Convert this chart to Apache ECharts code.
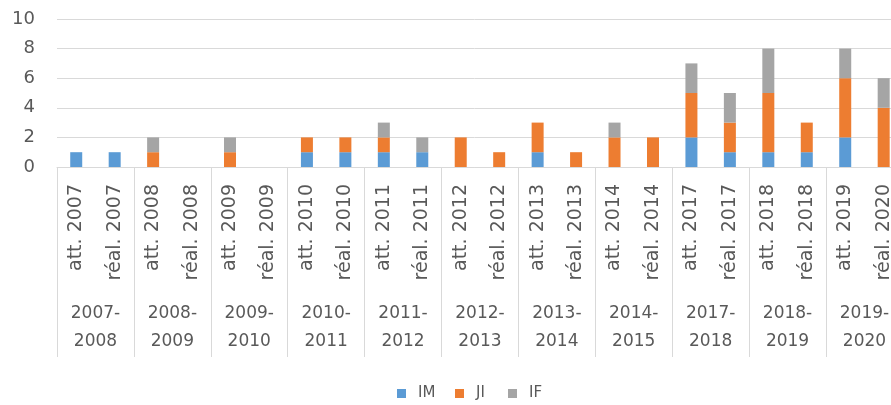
<!DOCTYPE html>
<html>
<head>
<meta charset="utf-8">
<script src="https://cdn.jsdelivr.net/npm/echarts@6/dist/echarts.min.js"></script>
<style>
html,body{margin:0;padding:0;background:#fff;overflow:hidden;}
#c{width:891px;height:405px;}
</style>
</head>
<body>
<div id="c"></div>
<script>
const categories = ['att. 2007','réal. 2007','att. 2008','réal. 2008','att. 2009','réal. 2009',
  'att. 2010','réal. 2010','att. 2011','réal. 2011','att. 2012','réal. 2012',
  'att. 2013','réal. 2013','att. 2014','réal. 2014','att. 2017','réal. 2017',
  'att. 2018','réal. 2018','att. 2019','réal. 2020'];
const groups = ['2007-\n2008','2008-\n2009','2009-\n2010','2010-\n2011','2011-\n2012','2012-\n2013',
  '2013-\n2014','2014-\n2015','2017-\n2018','2018-\n2019','2019-\n2020'];
const IM = [1,1,0,0,0,0,1,1,1,1,0,0,1,0,0,0,2,1,1,1,2,0];
const JI = [0,0,1,0,1,0,1,1,1,0,2,1,2,1,2,2,3,2,4,2,4,4];
const IF = [0,0,1,0,1,0,0,0,1,1,0,0,0,0,1,0,2,2,3,0,2,2];
const yTicks = [0,2,4,6,8,10];

const font = 'DejaVu Sans';
const txt = '#595959';
const line = '#d9d9d9';
const chart = echarts.init(document.getElementById('c'), null, {renderer:'canvas'});
const n = categories.length;
const catW = 38.45;
function leg(name, left) {
  return {data:[name], left:left, top:386, padding:0, itemWidth:9, itemHeight:9, icon:'rect', itemGap:0,
    textStyle:{fontFamily:font, fontSize:15, color:txt, padding:[0,0,0,7]}};
}
chart.setOption({
  animation:false,
  backgroundColor:'#fff',
  textStyle:{fontFamily:font},
  grid:{left:57, top:19, width:catW*n, height:148, containLabel:false, outerBoundsMode:'none'},
  legend:[leg('IM',397), leg('JI',455), leg('IF',508)],
  xAxis:[
    {type:'category', data:categories, position:'bottom', boundaryGap:true,
     axisLine:{show:true, lineStyle:{color:line, width:1}},
     axisTick:{show:false},
     splitLine:{show:false},
     axisLabel:{interval:0, rotate:90, margin:17, fontFamily:font, fontSize:19, color:txt, hideOverlap:false}},
    {type:'category', data:groups, position:'bottom', boundaryGap:true,
     axisLine:{show:false},
     axisTick:{show:true, length:190, lineStyle:{color:line, width:1}},
     splitLine:{show:false},
     axisLabel:{interval:0, margin:133, fontFamily:font, fontSize:17, lineHeight:28, color:txt, hideOverlap:false}}
  ],
  yAxis:{type:'value', min:yTicks[0], max:yTicks[yTicks.length-1], interval:2,
    axisLine:{show:false}, axisTick:{show:false},
    splitLine:{lineStyle:{color:line, width:1}},
    axisLabel:{margin:22, fontFamily:font, fontSize:18, color:txt}},
  series:[
    {name:'IM', type:'bar', stack:'s', data:IM, barWidth:12, itemStyle:{color:'#5b9bd5'}},
    {name:'JI', type:'bar', stack:'s', data:JI, barWidth:12, itemStyle:{color:'#ed7d31'}},
    {name:'IF', type:'bar', stack:'s', data:IF, barWidth:12, itemStyle:{color:'#a5a5a5'}}
  ]
});
</script>
</body>
</html>
